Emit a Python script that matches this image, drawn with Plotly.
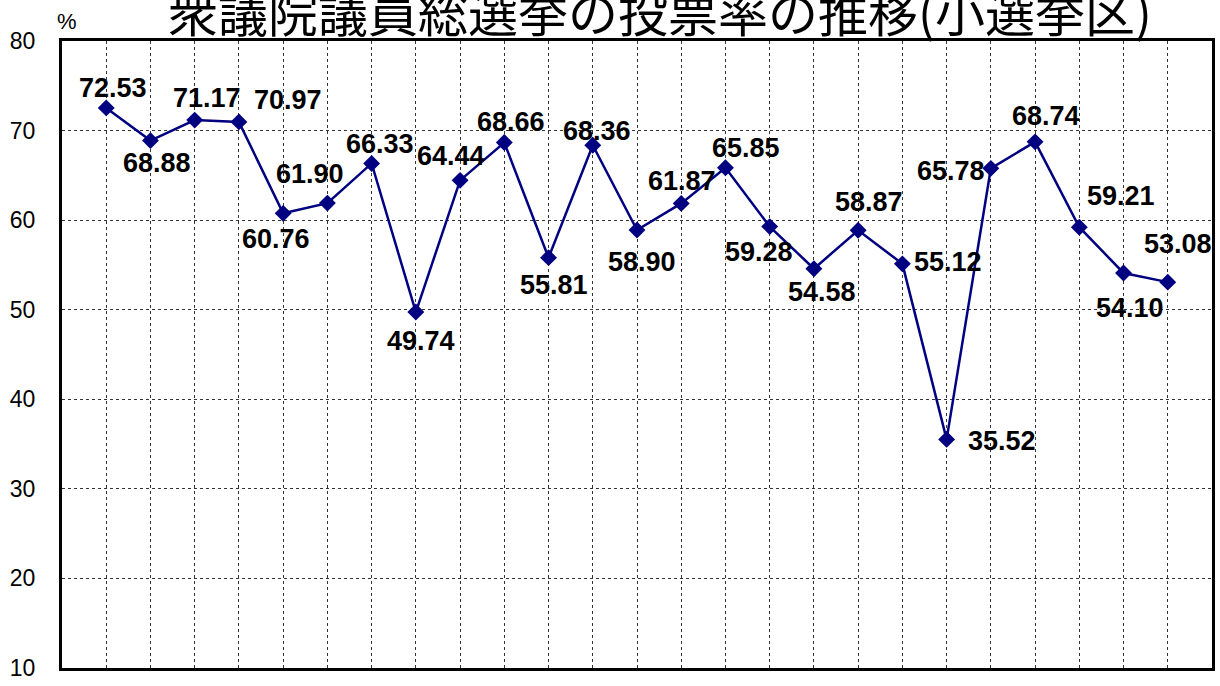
import plotly.graph_objects as go

# Data
points = list(range(1, 26))
turnout = [72.53, 68.88, 71.17, 70.97, 60.76, 61.90, 66.33, 49.74, 64.44, 68.66,
           55.81, 68.36, 58.90, 61.87, 65.85, 59.28, 54.58, 58.87, 55.12, 35.52,
           65.78, 68.74, 59.21, 54.10, 53.08]
y_ticks = [10, 20, 30, 40, 50, 60, 70, 80]
title_text = "衆議院議員総選挙の投票率の推移(小選挙区)"
unit_text = "%"

# Label offsets (pixels) relative to each point: (dx, dy down-positive)
label_dx = [7, 7, 12, 49, -7, -17, 8, 5, -9, 7, 5, 4, 5, 1, 21, -11, 8, 11, 46, 55, -40, 11, 42, 6, 10]
label_dy = [-20, 22, -22, -22, 26, -29, -19, 29, -24, -21, 27, -14, 32, -22, -20, 25, 23, -28, -2, 2, 3, -26, -31, 35, -38]

NAVY = "#000080"

fig = go.Figure()
fig.add_trace(go.Scatter(
    x=points, y=turnout, mode="lines+markers",
    line=dict(color=NAVY, width=2.5),
    marker=dict(symbol="diamond", size=13, color=NAVY),
    hoverinfo="skip", showlegend=False,
))

for xi, v, dx, dy in zip(points, turnout, label_dx, label_dy):
    fig.add_annotation(
        x=xi, y=v, text=f"{v:.2f}", showarrow=False,
        xshift=dx, yshift=-dy,
        font=dict(family="Liberation Sans, Arial, sans-serif", size=27, color="black", weight="bold"),
    )

fig.add_annotation(
    xref="paper", yref="paper", x=0.52, y=1.0, yshift=31,
    text=title_text, showarrow=False, xanchor="center", yanchor="middle",
    font=dict(family="Noto Sans CJK JP", size=50, color="black"),
)
fig.add_annotation(
    xref="paper", yref="paper", x=0.0, y=1.0, xshift=5, yshift=20,
    text=unit_text, showarrow=False, xanchor="center", yanchor="middle",
    font=dict(family="Liberation Sans, Arial, sans-serif", size=22, color="black"),
)

fig.update_xaxes(
    range=[0, 26], tickvals=points, showticklabels=False, ticks="",
    showgrid=True, gridcolor="#333333", gridwidth=1, griddash="dot",
    showline=True, linecolor="black", linewidth=3, mirror=True, zeroline=False,
    automargin=False,
)
fig.update_yaxes(
    range=[10, 80], tickvals=y_ticks, ticks="", ticklabelstandoff=19,
    tickfont=dict(family="Liberation Sans, Arial, sans-serif", size=23, color="black"),
    showgrid=True, gridcolor="#333333", gridwidth=1, griddash="dot",
    showline=True, linecolor="black", linewidth=3, mirror=True, zeroline=False,
    automargin=False,
)

fig.update_layout(
    width=1220, height=686,
    margin=dict(l=62, r=8, t=41, b=18),
    paper_bgcolor="white", plot_bgcolor="white",
)

fig.write_html(
    "out.html",
    config={"displayModeBar": False},
    post_script="document.body.style.margin='0';document.body.style.overflow='hidden';",
)
